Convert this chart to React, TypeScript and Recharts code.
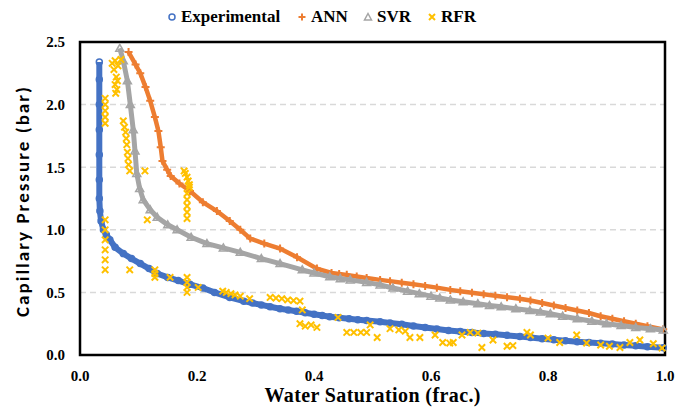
import React from "react";
import {
  ScatterChart,
  Scatter,
  XAxis,
  YAxis,
  CartesianGrid,
  ReferenceArea,
  Label,
} from "recharts";

// ---------- Data ----------
const expSw = [0.033, 0.033, 0.033, 0.033, 0.033, 0.033, 0.033, 0.034, 0.036, 0.04, 0.045, 0.051, 0.06, 0.074, 0.088, 0.103, 0.118, 0.132, 0.15, 0.168, 0.188, 0.21, 0.23, 0.256, 0.28, 0.295, 0.31, 0.325, 0.342, 0.356, 0.37, 0.385, 0.4, 0.414, 0.427, 0.443, 0.46, 0.475, 0.49, 0.513, 0.53, 0.55, 0.57, 0.59, 0.61, 0.63, 0.65, 0.67, 0.69, 0.71, 0.73, 0.752, 0.77, 0.79, 0.81, 0.83, 0.85, 0.87, 0.89, 0.91, 0.93, 0.95, 0.97, 0.997];
const expPc = [2.34, 2.2, 2.0, 1.8, 1.6, 1.4, 1.25, 1.15, 1.07, 1.0, 0.96, 0.92, 0.86, 0.81, 0.77, 0.73, 0.69, 0.65, 0.62, 0.595, 0.565, 0.535, 0.5, 0.46, 0.43, 0.415, 0.4, 0.385, 0.37, 0.36, 0.35, 0.337, 0.325, 0.315, 0.305, 0.297, 0.29, 0.282, 0.275, 0.265, 0.255, 0.245, 0.232, 0.22, 0.207, 0.195, 0.187, 0.18, 0.172, 0.165, 0.157, 0.148, 0.14, 0.13, 0.122, 0.113, 0.105, 0.099, 0.093, 0.087, 0.08, 0.073, 0.066, 0.058];

const annSw = [0.083, 0.095, 0.103, 0.112, 0.12, 0.128, 0.134, 0.138, 0.141, 0.149, 0.155, 0.17, 0.188, 0.21, 0.234, 0.256, 0.274, 0.291, 0.315, 0.342, 0.371, 0.405, 0.43, 0.443, 0.456, 0.473, 0.49, 0.513, 0.53, 0.55, 0.57, 0.59, 0.61, 0.633, 0.65, 0.67, 0.69, 0.71, 0.73, 0.752, 0.77, 0.79, 0.81, 0.83, 0.85, 0.87, 0.89, 0.91, 0.93, 0.95, 0.97, 0.997];
const annPc = [2.42, 2.32, 2.25, 2.14, 2.03, 1.9, 1.79, 1.66, 1.55, 1.48, 1.43, 1.37, 1.31, 1.22, 1.15, 1.07, 1.0, 0.93, 0.89, 0.85, 0.78, 0.69, 0.655, 0.647, 0.64, 0.627, 0.615, 0.6, 0.59, 0.577, 0.565, 0.552, 0.538, 0.52, 0.51, 0.498, 0.486, 0.474, 0.462, 0.45, 0.435, 0.415, 0.395, 0.375, 0.355, 0.335, 0.31, 0.29, 0.27, 0.25, 0.23, 0.205];

const svrSw = [0.068, 0.074, 0.081, 0.086, 0.091, 0.094, 0.097, 0.102, 0.108, 0.12, 0.132, 0.15, 0.166, 0.19, 0.217, 0.245, 0.274, 0.31, 0.342, 0.38, 0.4, 0.427, 0.445, 0.462, 0.49, 0.513, 0.535, 0.56, 0.58, 0.6, 0.615, 0.633, 0.655, 0.68, 0.7, 0.72, 0.745, 0.769, 0.787, 0.804, 0.825, 0.85, 0.875, 0.9, 0.925, 0.95, 0.975, 0.997];
const svrPc = [2.45, 2.35, 2.19, 2.0, 1.8, 1.63, 1.45, 1.33, 1.24, 1.16, 1.1, 1.04, 1.0, 0.94, 0.89, 0.855, 0.82, 0.77, 0.73, 0.68, 0.655, 0.625, 0.61, 0.6, 0.58, 0.56, 0.535, 0.51, 0.49, 0.47, 0.455, 0.44, 0.425, 0.41, 0.395, 0.385, 0.37, 0.355, 0.343, 0.33, 0.31, 0.29, 0.27, 0.25, 0.235, 0.22, 0.21, 0.2];

const rfrSw = [0.055, 0.06, 0.065, 0.07, 0.058, 0.062, 0.06, 0.063, 0.061, 0.064,
  0.043, 0.043, 0.043, 0.043, 0.043,
  0.074, 0.076, 0.078, 0.079, 0.08, 0.081, 0.082, 0.083, 0.085,
  0.111, 0.115,
  0.178, 0.18, 0.183, 0.185, 0.187, 0.187,
  0.183, 0.183, 0.183, 0.183, 0.183,
  0.043, 0.043, 0.043, 0.043, 0.043, 0.043,
  0.085, 0.128, 0.128, 0.128, 0.154, 0.183, 0.183, 0.183, 0.183, 0.202,
  0.244, 0.25, 0.258, 0.265, 0.274, 0.29,
  0.325, 0.335, 0.345, 0.355, 0.365, 0.376, 0.38,
  0.376, 0.385, 0.395, 0.405, 0.441,
  0.456, 0.468, 0.48, 0.49, 0.496, 0.508,
  0.53, 0.545, 0.556, 0.564, 0.581, 0.607, 0.62, 0.632, 0.638,
  0.653, 0.667, 0.68, 0.687, 0.706, 0.73, 0.74,
  0.764, 0.77, 0.8, 0.82, 0.849, 0.866, 0.89, 0.905, 0.923, 0.94, 0.957, 0.98, 0.995];
const rfrPc = [2.33, 2.35, 2.31, 2.36, 2.28, 2.22, 2.16, 2.12, 2.09, 2.19,
  2.05, 2.0, 1.95, 1.9, 1.85,
  1.87, 1.82, 1.78, 1.73, 1.68, 1.62, 1.57, 1.52, 1.47,
  1.47, 1.08,
  1.47, 1.45, 1.42, 1.39, 1.36, 1.34,
  1.29, 1.24, 1.19, 1.14, 1.09,
  1.08, 1.0, 0.92, 0.84, 0.76, 0.68,
  0.68, 0.68, 0.65, 0.62, 0.62, 0.62, 0.58, 0.54, 0.5, 0.54,
  0.51, 0.5, 0.49, 0.48, 0.47, 0.45,
  0.46, 0.455, 0.45, 0.44, 0.435, 0.43, 0.36,
  0.25, 0.23, 0.24, 0.22, 0.3,
  0.18, 0.18, 0.18, 0.18, 0.24, 0.14,
  0.21, 0.2, 0.19, 0.14, 0.14, 0.16, 0.1, 0.095, 0.1,
  0.16, 0.18, 0.175, 0.06, 0.12, 0.07, 0.075,
  0.18, 0.16, 0.135, 0.1, 0.16, 0.095, 0.08, 0.07, 0.06, 0.1, 0.12, 0.09, 0.055];

const xTicks = [0, 0.2, 0.4, 0.6, 0.8, 1.0];
const yTicks = [0, 0.5, 1.0, 1.5, 2.0, 2.5];

const toPoints = (xs: number[], ys: number[]) => xs.map((x, i) => ({ x, y: ys[i] }));
const expData = toPoints(expSw, expPc);
const annData = toPoints(annSw, annPc);
const svrData = toPoints(svrSw, svrPc);
const rfrData = toPoints(rfrSw, rfrPc);

const BLUE = "#4472C4";
const ORANGE = "#ED7D31";
const GRAY = "#A5A5A5";
const YELLOW = "#FFC000";
const SERIF = "'Times New Roman', 'Liberation Serif', serif";
const SANS = "Calibri, 'Liberation Sans', Arial, sans-serif";

const CircleShape = (p: any) => (
  <circle cx={p.cx} cy={p.cy} r={3} fill="none" stroke={BLUE} strokeWidth={1.5} />
);
const PlusShape = (p: any) => (
  <path d={`M${p.cx - 4},${p.cy}h8M${p.cx},${p.cy - 4}v8`} stroke={ORANGE} strokeWidth={2} fill="none" />
);
const TriShape = (p: any) => (
  <path d={`M${p.cx},${p.cy - 4}L${p.cx + 4},${p.cy + 3}L${p.cx - 4},${p.cy + 3}Z`} stroke={GRAY} strokeWidth={1.5} fill="none" />
);
const XShape = (p: any) => (
  <path d={`M${p.cx - 3.2},${p.cy - 3.2}l6.4,6.4M${p.cx + 3.2},${p.cy - 3.2}l-6.4,6.4`} stroke={YELLOW} strokeWidth={2} fill="none" />
);

const legendItems = [
  { name: "Experimental", left: 167, icon: <circle cx={5} cy={6} r={3} fill="none" stroke={BLUE} strokeWidth={1.5} /> },
  { name: "ANN", left: 297, icon: <path d="M1.5,6h7M5,2.5v7" stroke={ORANGE} strokeWidth={2} /> },
  { name: "SVR", left: 363, icon: <path d="M5,2.5L8.5,9L1.5,9Z" stroke={GRAY} strokeWidth={1.5} fill="none" /> },
  { name: "RFR", left: 427, icon: <path d="M2,3l6,6M8,3l-6,6" stroke={YELLOW} strokeWidth={2} /> },
];

const YTitle = () => (
  <text
    x={29}
    y={202}
    transform="rotate(-90, 29, 202)"
    textAnchor="middle"
    textLength={230}
    lengthAdjust="spacing"
    style={{ fill: "#000", fontFamily: SANS, fontWeight: "bold", fontSize: 19 }}
  >
    Capillary Pressure (bar)
  </text>
);

const XTitle = () => (
  <text
    x={372.5}
    y={402}
    textAnchor="middle"
    textLength={216}
    lengthAdjust="spacing"
    style={{ fill: "#000", fontFamily: SERIF, fontWeight: "bold", fontSize: 20 }}
  >
    Water Saturation (frac.)
  </text>
);

export default function App() {
  return (
    <div style={{ position: "absolute", left: 0, top: 0, width: 690, height: 409, background: "#fff" }}>
      <ScatterChart width={690} height={409} margin={{ top: 42, right: 25, bottom: 24, left: 0 }}>
        <CartesianGrid vertical={false} stroke="#D9D9D9" strokeDasharray="6 4" strokeWidth={1.5} />
        <XAxis
          type="number"
          dataKey="x"
          domain={[0, 1]}
          ticks={xTicks}
          tickFormatter={(v: number) => v.toFixed(1)}
          axisLine={false}
          tickLine={false}
          tickSize={6}
          tickMargin={9}
          height={30}
          tick={{ fill: "#000", fontFamily: SERIF, fontWeight: "bold", fontSize: 15 }}
        >
          <Label content={XTitle} />
        </XAxis>
        <YAxis
          type="number"
          dataKey="y"
          domain={[0, 2.5]}
          ticks={yTicks}
          tickFormatter={(v: number) => v.toFixed(1)}
          axisLine={false}
          tickLine={false}
          tickSize={6}
          tickMargin={9}
          width={80}
          tick={{ fill: "#000", fontFamily: SERIF, fontWeight: "bold", fontSize: 15 }}
        >
          <Label content={YTitle} />
        </YAxis>
        <Scatter name="Experimental" data={expData} isAnimationActive={false} shape={CircleShape} line={{ stroke: BLUE, strokeWidth: 6 }} lineType="joint" />
        <Scatter name="ANN" data={annData} isAnimationActive={false} shape={PlusShape} line={{ stroke: ORANGE, strokeWidth: 4.5 }} lineType="joint" />
        <Scatter name="SVR" data={svrData} isAnimationActive={false} shape={TriShape} line={{ stroke: GRAY, strokeWidth: 5 }} lineType="joint" />
        <Scatter name="RFR" data={rfrData} isAnimationActive={false} shape={XShape} />
        <ReferenceArea x1={0} x2={1} y1={0} y2={2.5} fill="none" stroke="#000" strokeWidth={2.5} ifOverflow="visible" />
      </ScatterChart>
      {legendItems.map((it) => (
        <div
          key={it.name}
          style={{
            position: "absolute",
            top: 7,
            left: it.left,
            display: "flex",
            alignItems: "center",
            fontFamily: SERIF,
            fontWeight: "bold",
            fontSize: 17,
            lineHeight: "20px",
            color: "#000",
            whiteSpace: "nowrap",
          }}
        >
          <svg width={10} height={12} style={{ marginRight: 4 }}>{it.icon}</svg>
          <span>{it.name}</span>
        </div>
      ))}
    </div>
  );
}
